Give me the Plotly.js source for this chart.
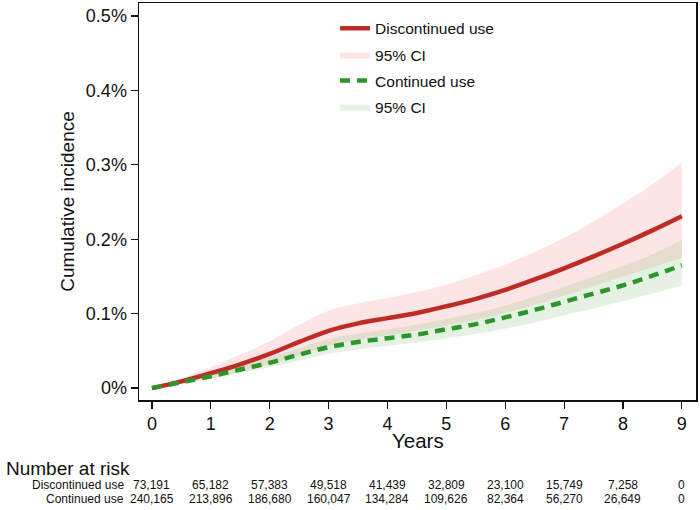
<!DOCTYPE html>
<html>
<head>
<meta charset="utf-8">
<script src="https://cdn.plot.ly/plotly-3.0.1.min.js"></script>
<style>
  html, body { margin: 0; padding: 0; background: #fff; }
  #chart { width: 700px; height: 510px; }
</style>
</head>
<body>
<div id="chart"></div>
<script>
// Follow-up time in years
const years = [0, 0.5, 1, 1.5, 2, 2.5, 3, 3.5, 4, 4.5, 5, 5.5, 6, 6.5, 7, 7.5, 8, 8.5, 9];

// Cumulative incidence (%) — discontinued use with 95% CI
const discEst   = [0, 0.009, 0.020, 0.032, 0.046, 0.062, 0.077, 0.087, 0.094, 0.101, 0.110, 0.120, 0.132, 0.146, 0.161, 0.177, 0.194, 0.212, 0.231];
const discUpper = [0, 0.013, 0.028, 0.045, 0.063, 0.085, 0.104, 0.114, 0.121, 0.129, 0.139, 0.152, 0.166, 0.183, 0.202, 0.224, 0.248, 0.274, 0.303];
const discLower = [0, 0.006, 0.013, 0.022, 0.032, 0.044, 0.057, 0.065, 0.071, 0.077, 0.084, 0.092, 0.101, 0.112, 0.124, 0.137, 0.150, 0.162, 0.175];

// Cumulative incidence (%) — continued use with 95% CI
const contEst   = [0, 0.008, 0.016, 0.025, 0.034, 0.045, 0.055, 0.062, 0.067, 0.072, 0.079, 0.086, 0.095, 0.105, 0.116, 0.127, 0.138, 0.151, 0.165];
const contUpper = [0, 0.010, 0.020, 0.031, 0.041, 0.054, 0.066, 0.073, 0.079, 0.085, 0.093, 0.101, 0.111, 0.123, 0.136, 0.150, 0.164, 0.180, 0.199];
const contLower = [0, 0.006, 0.013, 0.020, 0.028, 0.037, 0.046, 0.052, 0.057, 0.061, 0.067, 0.073, 0.080, 0.088, 0.098, 0.107, 0.117, 0.127, 0.138];

// Number-at-risk table
const riskYears = [0, 1, 2, 3, 4, 5, 6, 7, 8, 9];
const riskDisc = ['73,191', '65,182', '57,383', '49,518', '41,439', '32,809', '23,100', '15,749', '7,258', '0'];
const riskCont = ['240,165', '213,896', '186,680', '160,047', '134,284', '109,626', '82,364', '56,270', '26,649', '0'];
const riskLabels = ['Discontinued use', 'Continued use'];

// Axis ticks
const yTickVals = [0, 0.1, 0.2, 0.3, 0.4, 0.5];
const yTickText = ['0%', '0.1%', '0.2%', '0.3%', '0.4%', '0.5%'];
const xTickVals = [0, 1, 2, 3, 4, 5, 6, 7, 8, 9];

const RED = 'rgb(190,44,38)';
const RED_FILL = 'rgba(250,170,170,0.30)';
const GREEN = 'rgb(44,150,44)';
const GREEN_FILL = 'rgba(150,200,140,0.25)';
const FONT = 'Liberation Sans, Arial, sans-serif';

// Each legend entry sits in its own group so the row spacing can be set with tracegroupgap
const traces = [
  { x: years, y: discLower, mode: 'lines', line: { width: 0, shape: 'spline' },
    showlegend: false, hoverinfo: 'skip', legendgroup: 'g2' },
  { x: years, y: discUpper, mode: 'lines', line: { width: 0, shape: 'spline' },
    fill: 'tonexty', fillcolor: RED_FILL, name: '95% CI', legendgroup: 'g2', legendrank: 2 },
  { x: years, y: contLower, mode: 'lines', line: { width: 0, shape: 'spline' },
    showlegend: false, hoverinfo: 'skip', legendgroup: 'g4' },
  { x: years, y: contUpper, mode: 'lines', line: { width: 0, shape: 'spline' },
    fill: 'tonexty', fillcolor: GREEN_FILL, name: '95% CI', legendgroup: 'g4', legendrank: 4 },
  { x: years, y: discEst, mode: 'lines', line: { color: RED, width: 4.5, shape: 'spline' },
    name: 'Discontinued use', legendgroup: 'g1', legendrank: 1 },
  { x: years, y: contEst, mode: 'lines', line: { color: GREEN, width: 4.5, dash: '10px,7px', shape: 'spline' },
    name: 'Continued use', legendgroup: 'g3', legendrank: 3 }
];

const annotations = [];
// x-axis title, placed just under the tick labels
annotations.push({
  text: 'Years', xref: 'paper', yref: 'paper', x: 0.5, y: -0.103,
  xanchor: 'center', yanchor: 'middle', showarrow: false,
  font: { family: FONT, size: 20.5, color: '#111' }
});
annotations.push({
  text: 'Number at risk', xref: 'paper', yref: 'paper', x: -0.242, y: -0.172,
  xanchor: 'left', yanchor: 'middle', showarrow: false,
  font: { family: FONT, size: 19, color: '#111' }
});
[riskDisc, riskCont].forEach((row, r) => {
  const yp = r === 0 ? -0.214 : -0.249;
  annotations.push({
    text: riskLabels[r], xref: 'paper', yref: 'paper', x: -0.024, y: yp,
    xanchor: 'right', yanchor: 'middle', showarrow: false,
    font: { family: FONT, size: 12, color: '#111' }
  });
  row.forEach((v, i) => {
    annotations.push({
      text: v, xref: 'x', yref: 'paper', x: riskYears[i], y: yp,
      xanchor: 'center', yanchor: 'middle', showarrow: false,
      font: { family: FONT, size: 12, color: '#111' }
    });
  });
});

const layout = {
  width: 700, height: 510,
  margin: { l: 139, r: 4, t: 3, b: 110 },
  paper_bgcolor: '#fff', plot_bgcolor: '#fff',
  font: { family: FONT, color: '#111' },
  showlegend: true,
  legend: {
    x: 0.352, y: 0.978, xanchor: 'left', yanchor: 'top',
    bgcolor: 'rgba(0,0,0,0)', font: { family: FONT, size: 15.5, color: '#111' },
    traceorder: 'grouped', tracegroupgap: 3, itemwidth: 30
  },
  xaxis: {
    range: [-0.22, 9.24], tickvals: xTickVals, ticks: 'outside', ticklen: 7, tickwidth: 1.2,
    tickcolor: '#111', showline: true, linecolor: '#111', linewidth: 1.5, mirror: true,
    showgrid: false, zeroline: false,
    tickfont: { family: FONT, size: 18, color: '#111' }
  },
  yaxis: {
    range: [-0.016, 0.5175], tickvals: yTickVals, ticktext: yTickText, ticks: 'outside', ticklen: 7,
    tickwidth: 1.2, tickcolor: '#111', showline: true, linecolor: '#111', linewidth: 1.5, mirror: true,
    showgrid: false, zeroline: false,
    tickfont: { family: FONT, size: 18, color: '#111' },
    title: { text: 'Cumulative incidence', font: { family: FONT, size: 19, color: '#111' }, standoff: 6 }
  },
  annotations: annotations
};

Plotly.newPlot('chart', traces, layout, { displayModeBar: false, staticPlot: true });
</script>
</body>
</html>
